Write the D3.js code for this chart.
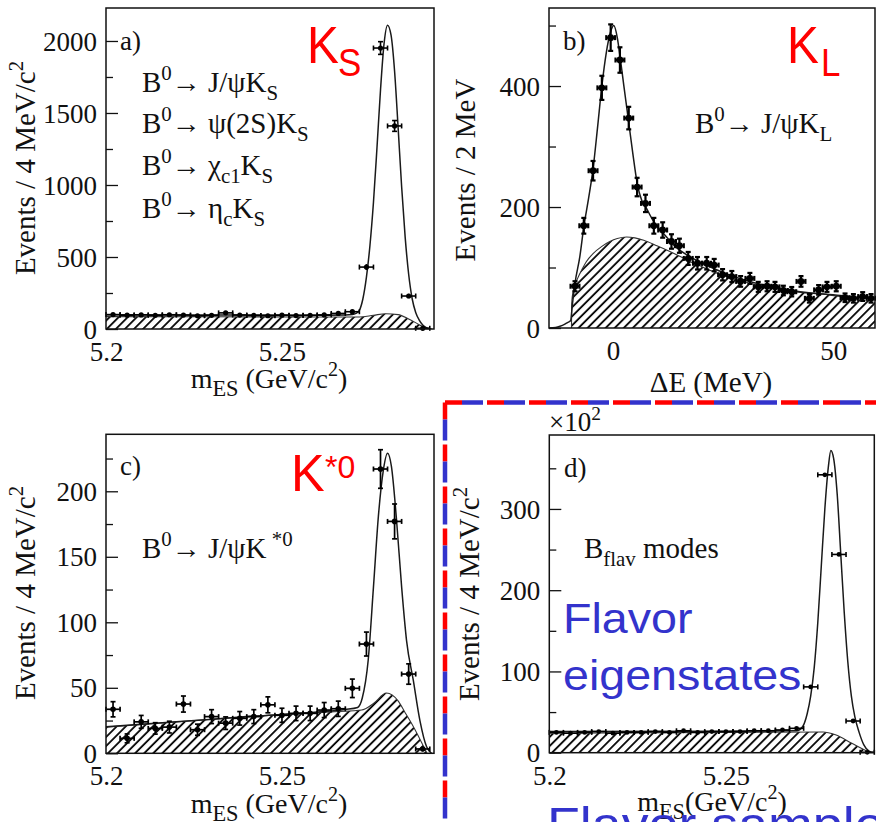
<!DOCTYPE html>
<html><head><meta charset="utf-8">
<script src="https://cdn.jsdelivr.net/npm/d3@7"></script>
<style>html,body{margin:0;padding:0;background:#fff;} svg{display:block;}</style>
</head><body>
<svg id="chart" width="876" height="822"></svg>
<script>
// ---------------- DATA ----------------
// bin centres for the m_ES panels (GeV/c^2)
const mesBins = [5.202,5.206,5.210,5.214,5.218,5.222,5.226,5.230,5.234,5.238,5.242,5.246,5.250,5.254,5.258,5.262,5.266,5.270,5.274,5.278,5.282,5.286,5.290];

// panel a) K_S modes
const aCounts = [100,96,98,95,99,97,92,95,112,97,94,92,96,93,95,98,108,120,430,1951,1410,229,5];
const aFitX = [5.200,5.220,5.240,5.260,5.268,5.270,5.271,5.272,5.273,5.274,5.275,5.276,5.277,5.278,5.279,5.280,5.281,5.282,5.283,5.284,5.285,5.286,5.287,5.288,5.289,5.290,5.291,5.2925];
const aFitY = [99,98,97,96,97,100,108,130,210,360,580,880,1260,1660,1980,2110,2040,1790,1400,990,640,380,210,115,62,28,10,0];
const aBkgX = [5.200,5.230,5.260,5.272,5.276,5.2795,5.283,5.286,5.289,5.2915];
const aBkgY = [86,85,83,83,95,106,100,70,30,0];
const aYTicks = [0,500,1000,1500,2000];
const aYMinor = [250,750,1250,1750];

// panel b) K_L (Delta E)
const bX = [-8.6,-6.6,-4.5,-2.5,-0.5,1.6,3.6,5.5,7.4,9.3,11.3,13.3,15.1,17.1,19.2,21.3,23.0,24.9,27.0,29.0,31.1,33.0,35.0,36.8,38.7,40.6,42.7,44.6,46.7,48.6,50.7,52.7,54.6,56.7,58.6];
const bCounts = [69,169,260,397,480,443,347,233,206,169,162,143,136,115,107,107,104,88,85,77,82,68,69,68,62,60,77,49,63,68,69,50,49,52,49];
const bFitX = [-14.5,-13,-12,-11,-10.3,-9.6,-9.2,-8.6,-7.5,-6.6,-5.5,-4.5,-3.5,-2.5,-1.5,-0.5,0.2,1.0,1.6,2.5,3.5,4.5,5.5,6.5,7.6,9.5,11.4,14.1,17,20,23,26,30,35,40,45,50,55,59.5];
const bFitY = [0,1,3,6,9,12,38,74,118,167,215,263,330,400,455,490,500,480,450,400,345,290,240,212,198,173,157,135,120,108,98,89,79,70,63,58,55,51,49];
const bBkgX = [-9.4,-9.35,-9.0,-8.0,-7.0,-6.0,-4.5,-2.5,-0.7,1.0,3.1,5.0,7.0,10.0,12.2,14.8,17.5,20.0,25.0,30.0,36.0,40.0,44.0,47.8,50.7,55.0,59.5];
const bBkgY = [0,40,62,82,97,110,123,135,143,148,150.5,149,145,136,129,120,110,102,87,76,66,61,58,56,53,50,48];
const bXTicks = [0,50];
const bXTickLabels = ["0","50"];
const bYTicks = [0,200,400];
const bYMinor = [100,300,500];

// panel c) K*0
const cCounts = [33.6,11.4,24,19,20,37.6,18,28,23,26.7,28,37,29,30.5,30.5,33,34,49.6,83.4,217,177,60.5,3.3];
const cFitX = [5.200,5.220,5.240,5.260,5.268,5.2715,5.2728,5.2745,5.2760,5.2774,5.2788,5.2800,5.2811,5.2825,5.2840,5.2854,5.2873,5.2892,5.2911,5.2925];
const cFitY = [20.3,24,28,31.5,33.5,35,42,71,127,181,216,229,219,180,127,86,56,25,5,0];
const cBkgX = [5.200,5.230,5.255,5.2726,5.276,5.2797,5.283,5.285,5.287,5.2912];
const cBkgY = [20,26,30.5,33,38,46,40,31,22,0];
const cYTicks = [0,50,100,150,200];
const cYMinor = [25,75,125,175,225];

// panel d) B_flav (units of 10^2)
const dCounts = [25,24,25,26,24,25,25,26,25,27,25,26,26,26,27,27,28,30,81,342,244,39,0.5];
const dFitX = [5.200,5.250,5.270,5.2717,5.273,5.274,5.275,5.276,5.277,5.278,5.279,5.2797,5.2805,5.2815,5.2825,5.2835,5.2845,5.2855,5.2865,5.2877,5.289,5.2905,5.292];
const dFitY = [26,26.5,27,32,48,70,105,160,230,300,352,372,362,318,245,172,112,70,44,25,10,2,0];
const dBkgX = [5.200,5.250,5.2775,5.281,5.2855,5.289,5.291];
const dBkgY = [24,25,25.5,22,12,4,0];
const dYTicks = [0,100,200,300];
const dYMinor = [50,150,250,350];

const mesTicks = [5.2,5.25];
const mesTickLabels = ["5.2","5.25"];

// ---------------- DRAWING ----------------
const SERIF = "'Liberation Serif','Times New Roman',serif";
const SANS = "'Liberation Sans',Arial,sans-serif";
const RED = "#ff0000", BLUE = "#3333cc";
const svg = d3.select('#chart');
svg.append('rect').attr('width',876).attr('height',822).attr('fill','#fff');
const defs = svg.append('defs');
const pat = defs.append('pattern').attr('id','hatch').attr('patternUnits','userSpaceOnUse')
  .attr('width',6.4).attr('height',6.4).attr('patternTransform','rotate(45)');
pat.append('line').attr('x1',1).attr('y1',-1).attr('x2',1).attr('y2',8).attr('stroke','#000').attr('stroke-width',1.8);

function rich(g, x, y, parts, fs, o) {
  o = o || {};
  const t = g.append('text').attr('font-family', o.font || SERIF).attr('font-size', fs)
    .attr('fill', o.fill || '#111').attr('text-anchor', o.anchor || 'start');
  if (o.sx || o.rot) {
    t.attr('transform', `translate(${x},${y})` + (o.rot ? ` rotate(${o.rot})` : '') + (o.sx ? ` scale(${o.sx},1)` : ''));
  } else { t.attr('x', x).attr('y', y); }
  let shift = 0;
  parts.forEach(p => {
    if (typeof p === 'string') p = {t: p};
    const ts = t.append('tspan').text(p.t);
    const target = p.sup ? -0.42 * fs : (p.sub ? 0.28 * fs : 0);
    if (target - shift !== 0) ts.attr('dy', target - shift);
    shift = target;
    if (p.sup || p.sub) ts.attr('font-size', fs * (p.scale || 0.72));
  });
  return t;
}

function drawPanel(c) {
  const g = svg.append('g');
  const x = d3.scaleLinear().domain([c.x0, c.x1]).range([c.left, c.right]);
  const y = d3.scaleLinear().domain([0, c.ymax]).range([c.bottom, c.top]);
  defs.append('clipPath').attr('id', 'clip' + c.id).append('rect')
    .attr('x', c.left).attr('y', c.top).attr('width', c.right - c.left).attr('height', c.bottom - c.top);
  const pg = g.append('g').attr('clip-path', `url(#clip${c.id})`);
  const bk = c.bkgX.map((v, i) => [v, c.bkgY[i]]);
  pg.append('path').datum(bk)
    .attr('d', d3.area().x(d => x(d[0])).y0(y(0)).y1(d => y(d[1])).curve(d3.curveMonotoneX))
    .attr('fill', 'url(#hatch)');
  pg.append('path').datum(bk)
    .attr('d', d3.line().x(d => x(d[0])).y(d => y(d[1])).curve(d3.curveMonotoneX))
    .attr('fill', 'none').attr('stroke', '#333').attr('stroke-width', 1.1);
  const fit = c.fitX.map((v, i) => [v, c.fitY[i]]);
  pg.append('path').datum(fit)
    .attr('d', d3.line().x(d => x(d[0])).y(d => y(d[1])).curve(d3.curveMonotoneX))
    .attr('fill', 'none').attr('stroke', '#1a1a1a').attr('stroke-width', 1.5);
  // data points
  const ptg = g.append('g').attr('stroke', '#000').attr('stroke-width', c.pw);
  c.px.forEach((xv, i) => {
    const v = c.py[i];
    const e = Math.sqrt(Math.max(v, 0) * c.unit) / c.unit;
    const cx = x(xv), cy = y(v);
    const y1 = y(Math.max(v - e, 0)), y2 = y(v + e);
    ptg.append('line').attr('x1', cx).attr('x2', cx).attr('y1', y1).attr('y2', y2);
    if (y1 - y2 > 6) {
      ptg.append('line').attr('x1', cx - 2.5).attr('x2', cx + 2.5).attr('y1', y2).attr('y2', y2);
      ptg.append('line').attr('x1', cx - 2.5).attr('x2', cx + 2.5).attr('y1', y1).attr('y2', y1);
    }
    const xa = x(xv - c.hw), xb = x(xv + c.hw);
    ptg.append('line').attr('x1', xa).attr('x2', xb).attr('y1', cy).attr('y2', cy);
    ptg.append('line').attr('x1', xa).attr('x2', xa).attr('y1', cy - 2.5).attr('y2', cy + 2.5);
    ptg.append('line').attr('x1', xb).attr('x2', xb).attr('y1', cy - 2.5).attr('y2', cy + 2.5);
    ptg.append('circle').attr('cx', cx).attr('cy', cy).attr('r', c.r).attr('fill', '#000').attr('stroke', 'none');
  });
  // frame
  g.append('rect').attr('x', c.left).attr('y', c.top).attr('width', c.right - c.left).attr('height', c.bottom - c.top)
    .attr('fill', 'none').attr('stroke', '#111').attr('stroke-width', 1.5);
  // y axis
  const ya = g.append('g').attr('transform', `translate(${c.left},0)`)
    .call(d3.axisLeft(y).tickValues(c.yTicks).tickSize(-12).tickPadding(9).tickFormat(d3.format('d')));
  ya.select('.domain').remove();
  ya.selectAll('line').attr('stroke', '#111').attr('stroke-width', 1.3);
  ya.selectAll('text').attr('font-family', SERIF).attr('font-size', 27).attr('fill', '#111').attr('dy', '0.34em');
  const ym = g.append('g').attr('transform', `translate(${c.left},0)`)
    .call(d3.axisLeft(y).tickValues(c.yMinor).tickSize(-7).tickFormat(''));
  ym.select('.domain').remove();
  ym.selectAll('line').attr('stroke', '#111').attr('stroke-width', 1.3);
  // x axis labels
  const xa = g.append('g').attr('transform', `translate(0,${c.bottom})`)
    .call(d3.axisBottom(x).tickValues(c.xTicks).tickSize(0).tickFormat((d, i) => c.xTickLabels[i]));
  xa.select('.domain').remove();
  xa.selectAll('text').attr('font-family', SERIF).attr('font-size', 27).attr('fill', '#111')
    .attr('y', c.xLabY - c.bottom).attr('dy', 0);
  return {x, y};
}

const common = {x0: 5.2, xTicks: mesTicks, xTickLabels: mesTickLabels, unit: 1, hw: 0.002};
drawPanel(Object.assign({}, common, {id: 'a', x1: 5.2932, left: 106, right: 434, top: 8, bottom: 329, ymax: 2229,
  px: mesBins, py: aCounts, fitX: aFitX, fitY: aFitY, bkgX: aBkgX, bkgY: aBkgY,
  yTicks: aYTicks, yMinor: aYMinor, r: 2.6, pw: 1.6, xLabY: 361}));
drawPanel({id: 'b', x0: -14.5, x1: 59.5, left: 549, right: 875, top: 8, bottom: 328, ymax: 529, unit: 1, hw: 1,
  px: bX, py: bCounts, fitX: bFitX, fitY: bFitY, bkgX: bBkgX, bkgY: bBkgY,
  yTicks: bYTicks, yMinor: bYMinor, xTicks: bXTicks, xTickLabels: bXTickLabels, r: 3.4, pw: 2.2, xLabY: 360});
drawPanel(Object.assign({}, common, {id: 'c', x1: 5.2932, left: 106, right: 434, top: 434.3, bottom: 753.3, ymax: 243.5,
  px: mesBins, py: cCounts, fitX: cFitX, fitY: cFitY, bkgX: cBkgX, bkgY: cBkgY,
  yTicks: cYTicks, yMinor: cYMinor, r: 2.8, pw: 1.7, xLabY: 785}));
drawPanel(Object.assign({}, common, {id: 'd', x1: 5.292, left: 549.3, right: 874.3, top: 435, bottom: 752.7, ymax: 391, unit: 100,
  px: mesBins, py: dCounts, fitX: dFitX, fitY: dFitY, bkgX: dBkgX, bkgY: dBkgY,
  yTicks: dYTicks, yMinor: dYMinor, r: 2.4, pw: 1.6, xLabY: 785}));

// ---------------- TEXT ----------------
const T = svg.append('g');
// axis titles
const evt4 = ["Events / 4 MeV/c", {t: "2", sup: true}];
rich(T, 35, 168, evt4, 29, {anchor: 'middle', rot: -90});
rich(T, 475, 170, ["Events / 2 MeV"], 29, {anchor: 'middle', rot: -90});
rich(T, 35, 593, evt4, 29, {anchor: 'middle', rot: -90});
rich(T, 479, 594, evt4, 29, {anchor: 'middle', rot: -90});
const mes = ["m", {t: "ES", sub: true, scale: 0.8}, " (GeV/c", {t: "2", sup: true}, ")"];
rich(T, 269, 388, mes, 28, {anchor: 'middle'});
rich(T, 711, 392, ["ΔE (MeV)"], 29, {anchor: 'middle'});
rich(T, 269, 813, mes, 28, {anchor: 'middle'});
rich(T, 712, 811, ["m", {t: "ES", sub: true, scale: 0.8}, "(GeV/c", {t: "2", sup: true}, ")"], 28, {anchor: 'middle'});
rich(T, 549, 431, ["×10", {t: "2", sup: true}], 27);

// panel labels
rich(T, 120, 50, ["a)"], 27);
rich(T, 563, 50, ["b)"], 27);
rich(T, 120, 475, ["c)"], 27);
rich(T, 564, 477, ["d)"], 27);

// decay modes
const B0 = ["B", {t: "0", sup: true}, "→ "];
rich(T, 142, 92, B0.concat(["J/ψK", {t: "S", sub: true}]), 29);
rich(T, 142, 133, B0.concat(["ψ(2S)K", {t: "S", sub: true}]), 29);
rich(T, 142, 175, B0.concat(["χ", {t: "c1", sub: true}, "K", {t: "S", sub: true}]), 29);
rich(T, 142, 218, B0.concat(["η", {t: "c", sub: true}, "K", {t: "S", sub: true}]), 29);
rich(T, 695, 133, B0.concat(["J/ψK", {t: "L", sub: true}]), 29);
rich(T, 142, 558, B0.concat(["J/ψK", {t: " *0", sup: true}]), 29);
rich(T, 584, 558, ["B", {t: "flav", sub: true}, " modes"], 29);

// red annotations
rich(T, 307, 63, ["K"], 52, {font: SANS, fill: RED, sx: 0.92});
rich(T, 338, 76, ["S"], 38, {font: SANS, fill: RED, sx: 0.92});
rich(T, 787, 63, ["K"], 52, {font: SANS, fill: RED, sx: 0.92});
rich(T, 821, 76, ["L"], 38, {font: SANS, fill: RED, sx: 0.92});
rich(T, 291, 491, ["K"], 52, {font: SANS, fill: RED, sx: 0.97});
rich(T, 325, 478, ["*0"], 32, {font: SANS, fill: RED});

// blue annotations
rich(T, 563, 633, ["Flavor"], 42, {font: SANS, fill: BLUE, sx: 1.11});
rich(T, 563, 690, ["eigenstates"], 42, {font: SANS, fill: BLUE, sx: 1.11});
rich(T, 547, 841, ["Flavor sample"], 48, {font: SANS, fill: BLUE, sx: 1.12});

// dashed red/blue border
const B = svg.append('g').attr('fill', 'none').attr('stroke-width', 4.5);
["M445,402.5 L876,402.5", "M445,402.5 L445,822"].forEach(d => {
  B.append('path').attr('d', d).attr('stroke', RED).attr('stroke-dasharray', '17 25');
  B.append('path').attr('d', d).attr('stroke', BLUE).attr('stroke-dasharray', '21 21').attr('stroke-dashoffset', -17);
});
</script></body></html>
